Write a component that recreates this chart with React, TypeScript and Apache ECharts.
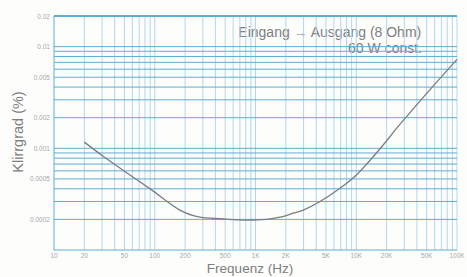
import React, { useEffect, useRef } from "react";
import * as echarts from "echarts";

// Frequency response of THD (Klirrgrad)
const freqHz = [20, 30, 50, 93, 178, 281, 445, 818, 1290, 1750, 2360, 2980, 4370, 6900, 10100, 14800, 21600, 25100, 50000, 100000];
const thdPct = [0.00115, 0.00085, 0.000596, 0.00039, 0.000247, 0.00021, 0.000203, 0.000197, 0.0002, 0.00021, 0.00023, 0.000247, 0.0003, 0.000405, 0.00055, 0.00083, 0.0013, 0.00157, 0.00347, 0.0075];

const xTickValues = [10, 20, 50, 100, 200, 500, 1000, 2000, 5000, 10000, 20000, 50000, 100000];
const xTickLabels = ["10", "20", "50", "100", "200", "500", "1K", "2K", "5K", "10K", "20K", "50K", "100K"];
const yTickValues = [0.02, 0.01, 0.005, 0.002, 0.001, 0.0005, 0.0002];
const yTickLabels = ["0.02", "0.01", "0.005", "0.002", "0.001", "0.0005", "0.0002"];

const xGridValues = [20, 30, 40, 50, 60, 70, 80, 90, 100, 200, 300, 400, 500, 600, 700, 800, 900, 1000, 2000, 3000, 4000, 5000, 6000, 7000, 8000, 9000, 10000, 20000, 30000, 40000, 50000, 60000, 70000, 80000, 90000];
const yGridValues = [0.0002, 0.0003, 0.0004, 0.0005, 0.0006, 0.0007, 0.0008, 0.0009, 0.001, 0.002, 0.003, 0.004, 0.005, 0.006, 0.007, 0.008, 0.009, 0.01];

const X_MIN = 10;
const X_MAX = 100000;
const Y_MIN = 0.0001;
const Y_MAX = 0.02;

export default function App() {
  const ref = useRef<HTMLDivElement>(null);
  useEffect(() => {
    if (!ref.current) return;
    const chart = echarts.init(ref.current, null, { renderer: "svg" });
    const hColor = "#5eaed3";
    const vColor = "#b3d8ea";

    // grid line items: [x, y, kind, width]  kind 0 = vertical, 1 = horizontal
    const gridItems: any[] = [];
    xGridValues.forEach((v) => gridItems.push([v, Y_MIN, 0, 1]));
    gridItems.push([X_MAX, Y_MIN, 0, 1]);
    yGridValues.forEach((v) => gridItems.push([X_MIN, v, 1, 1]));
    gridItems.push([X_MIN, Y_MIN, 1, 1]);
    gridItems.push([X_MIN, Y_MAX, 1, 2]);
    gridItems.push([X_MIN, Y_MIN, 2, 1]); // left border

    const tickLabel = { fontSize: 6.5, color: "#8c8c8c", fontFamily: "Liberation Sans, Arial, sans-serif" };

    chart.setOption({
      animation: false,
      backgroundColor: "#fdfdfc",
      grid: { left: 54, right: 10, top: 16, bottom: 27 },
      xAxis: {
        type: "log",
        logBase: 10,
        min: X_MIN,
        max: X_MAX,
        axisLine: { show: false },
        axisTick: { show: false },
        axisLabel: { show: false },
        splitLine: { show: false },
      },
      yAxis: {
        type: "log",
        logBase: 10,
        min: Y_MIN,
        max: Y_MAX,
        axisLine: { show: false },
        axisTick: { show: false },
        axisLabel: { show: false },
        splitLine: { show: false },
      },
      series: [
        {
          type: "custom",
          silent: true,
          clip: false,
          data: gridItems,
          renderItem: (params: any, api: any) => {
            const xv = api.value(0);
            const yv = api.value(1);
            const kind = api.value(2);
            const w = api.value(3);
            let p1: number[];
            let p2: number[];
            let stroke = hColor;
            if (kind === 0) {
              p1 = api.coord([xv, Y_MIN]);
              p2 = api.coord([xv, Y_MAX]);
              stroke = vColor;
            } else if (kind === 2) {
              p1 = api.coord([X_MIN, Y_MIN]);
              p2 = api.coord([X_MIN, Y_MAX]);
            } else {
              p1 = api.coord([X_MIN, yv]);
              p2 = api.coord([X_MAX, yv]);
            }
            return {
              type: "line",
              shape: { x1: p1[0], y1: p1[1], x2: p2[0], y2: p2[1] },
              style: { stroke, lineWidth: w },
            };
          },
        },
        {
          type: "scatter",
          silent: true,
          clip: false,
          symbolSize: 0.1,
          itemStyle: { color: "rgba(0,0,0,0)" },
          data: xTickValues.map((v, i) => [v, Y_MIN, xTickLabels[i]]),
          label: {
            show: true,
            position: "bottom",
            distance: 2,
            formatter: (p: any) => p.value[2],
            ...tickLabel,
          },
        },
        {
          type: "scatter",
          silent: true,
          clip: false,
          symbolSize: 0.1,
          itemStyle: { color: "rgba(0,0,0,0)" },
          data: yTickValues.map((v, i) => [X_MIN, v, yTickLabels[i]]),
          label: {
            show: true,
            position: "left",
            distance: 4,
            formatter: (p: any) => p.value[2],
            ...tickLabel,
          },
        },
        {
          type: "line",
          data: freqHz.map((f, i) => [f, thdPct[i]]),
          showSymbol: false,
          smooth: 0.3,
          silent: true,
          lineStyle: { color: "#7c7c84", width: 1.3 },
        },
      ],
      graphic: [
        {
          type: "text",
          right: 45,
          top: 25,
          style: {
            text: "Eingang → Ausgang (8 Ohm)",
            fill: "#7e7e7e",
            font: "14px 'Liberation Sans', Arial, sans-serif",
          },
        },
        {
          type: "text",
          right: 45,
          top: 41,
          style: {
            text: "60 W const.",
            fill: "#7e7e7e",
            font: "14px 'Liberation Sans', Arial, sans-serif",
          },
        },
        {
          type: "text",
          x: 18,
          y: 132,
          rotation: Math.PI / 2,
          style: {
            text: "Klirrgrad (%)",
            fill: "#7e7e7e",
            font: "14.5px 'Liberation Sans', Arial, sans-serif",
            align: "center",
            verticalAlign: "middle",
          },
        },
        {
          type: "text",
          x: 250,
          y: 268,
          style: {
            text: "Frequenz (Hz)",
            fill: "#7e7e7e",
            font: "13.5px 'Liberation Sans', Arial, sans-serif",
            align: "center",
            verticalAlign: "middle",
          },
        },
      ],
    });
    return () => chart.dispose();
  }, []);
  return <div ref={ref} style={{ position: "fixed", left: 0, top: 0, width: 467, height: 277 }} />;
}
